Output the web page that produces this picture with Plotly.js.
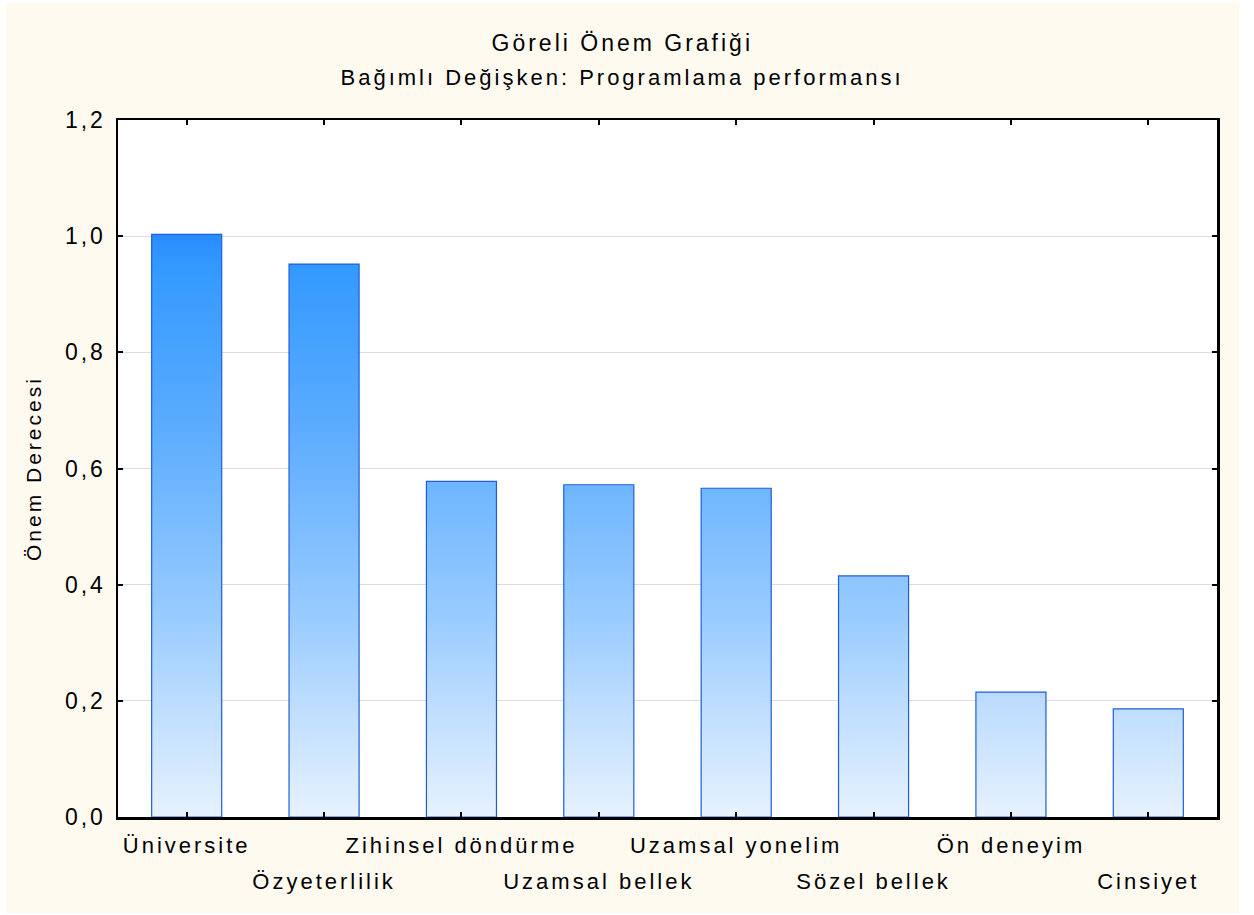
<!DOCTYPE html>
<html>
<head>
<meta charset="utf-8">
<script src="https://cdn.plot.ly/plotly-3.0.1.min.js"></script>
<style>
  html, body { margin: 0; padding: 0; background: #ffffff; }
  #chart { position: absolute; left: 6px; top: 3px; width: 1233px; height: 910px; }
</style>
</head>
<body>
<div id="chart"></div>
<script>
// ---- data ----
const categories = ['Üniversite', 'Özyeterlilik', 'Zihinsel döndürme', 'Uzamsal bellek',
                    'Uzamsal yonelim', 'Sözel bellek', 'Ön deneyim', 'Cinsiyet'];
const importance = [1.003, 0.952, 0.578, 0.572, 0.566, 0.415, 0.215, 0.186];
const yTickVals = [0, 0.2, 0.4, 0.6, 0.8, 1.0, 1.2];
const chartTitle = 'Göreli Önem Grafiği';
const chartSubtitle = 'Bağımlı Değişken: Programlama performansı';
const yTitle = 'Önem Derecesi';

const FONT = 'Liberation Sans, Arial, sans-serif';
const idx = categories.map((c, i) => i);
const rowB = idx.filter(i => i % 2 === 1);

const trace = {
  type: 'bar',
  x: idx,
  y: importance,
  marker: { color: '#6fb6ff', line: { color: '#1f5fd6', width: 1.2 } },
  hoverinfo: 'skip',
  showlegend: false
};
// invisible companion trace so the second label row (xaxis2) is drawn
const labelRowTrace = {
  type: 'scatter', mode: 'markers',
  x: idx, y: importance, xaxis: 'x2', yaxis: 'y',
  marker: { opacity: 0, size: 1 },
  hoverinfo: 'skip', showlegend: false
};

const layout = {
  width: 1233, height: 910,
  margin: { l: 112, r: 22, t: 117, b: 96 },
  paper_bgcolor: '#fffaf0',
  plot_bgcolor: '#ffffff',
  separators: ',.',
  bargap: 0.49,
  font: { family: FONT, color: '#000000', size: 22 },
  xaxis: {
    type: 'linear', range: [-0.5, categories.length - 0.5],
    tickmode: 'array', tickvals: idx,
    ticktext: idx.map(i => (i % 2 === 0 ? categories[i] : '')),
    ticks: 'inside', ticklen: 5, tickwidth: 2, tickcolor: '#000',
    showline: true, linecolor: '#000', linewidth: 2.5, mirror: 'ticks',
    showgrid: false, zeroline: false, fixedrange: true,
    ticklabelstandoff: 7,
    tickfont: { family: FONT, size: 22, color: '#000' }
  },
  xaxis2: {
    type: 'linear', range: [-0.5, categories.length - 0.5],
    overlaying: 'x', anchor: 'y', side: 'bottom',
    tickmode: 'array', tickvals: rowB, ticktext: rowB.map(i => categories[i]),
    ticks: '', showline: false, showgrid: false, zeroline: false,
    ticklabelstandoff: 49,
    tickfont: { family: FONT, size: 22, color: '#000' }
  },
  yaxis: {
    range: [0, 1.2], tickmode: 'array', tickvals: yTickVals, tickformat: '.1f',
    ticks: 'inside', ticklen: 5, tickwidth: 2, tickcolor: '#000',
    showline: true, linecolor: '#000', linewidth: 2.5, mirror: 'ticks',
    showgrid: true, gridcolor: '#dcdcdc', gridwidth: 1, zeroline: false,
    ticklabelstandoff: 5,
    tickfont: { family: FONT, size: 23, color: '#000' }
  },
  annotations: [
    { text: chartTitle, xref: 'paper', yref: 'paper', x: 0.459, y: 1.1105,
      xanchor: 'center', yanchor: 'middle', showarrow: false,
      font: { family: FONT, size: 23, color: '#000' } },
    { text: chartSubtitle, xref: 'paper', yref: 'paper', x: 0.459, y: 1.0603,
      xanchor: 'center', yanchor: 'middle', showarrow: false,
      font: { family: FONT, size: 22, color: '#000' } },
    { text: yTitle, xref: 'paper', yref: 'paper', x: -0.0773, y: 0.5,
      xanchor: 'center', yanchor: 'middle', textangle: -90, showarrow: false,
      font: { family: FONT, size: 21, color: '#000' } }
  ]
};

const gd = document.getElementById('chart');
Plotly.newPlot(gd, [trace, labelRowTrace], layout, { staticPlot: true, displayModeBar: false }).then(() => {
  const ya = gd._fullLayout.yaxis;
  const svg = gd.querySelector('svg.main-svg');
  const NS = 'http://www.w3.org/2000/svg';
  let defs = svg.querySelector('defs');
  if (!defs) { defs = document.createElementNS(NS, 'defs'); svg.insertBefore(defs, svg.firstChild); }
  const grad = document.createElementNS(NS, 'linearGradient');
  grad.setAttribute('id', 'barGrad');
  grad.setAttribute('gradientUnits', 'userSpaceOnUse');
  grad.setAttribute('x1', 0); grad.setAttribute('x2', 0);
  grad.setAttribute('y1', ya.l2p(1.0)); grad.setAttribute('y2', ya.l2p(0));
  const stops = [[0, '#2a8cff'], [0.05, '#3399ff'], [0.32, '#5aabff'], [0.66, '#9accff'], [0.8, '#bcdcff'], [1, '#e6f2ff']];
  stops.forEach(([o, c]) => {
    const s = document.createElementNS(NS, 'stop');
    s.setAttribute('offset', o); s.setAttribute('stop-color', c);
    grad.appendChild(s);
  });
  defs.appendChild(grad);
  gd.querySelectorAll('.bars .point path').forEach(p => { p.style.fill = 'url(#barGrad)'; });
  gd.querySelectorAll('text').forEach(t => { t.style.letterSpacing = '3px'; });
});
</script>
</body>
</html>
